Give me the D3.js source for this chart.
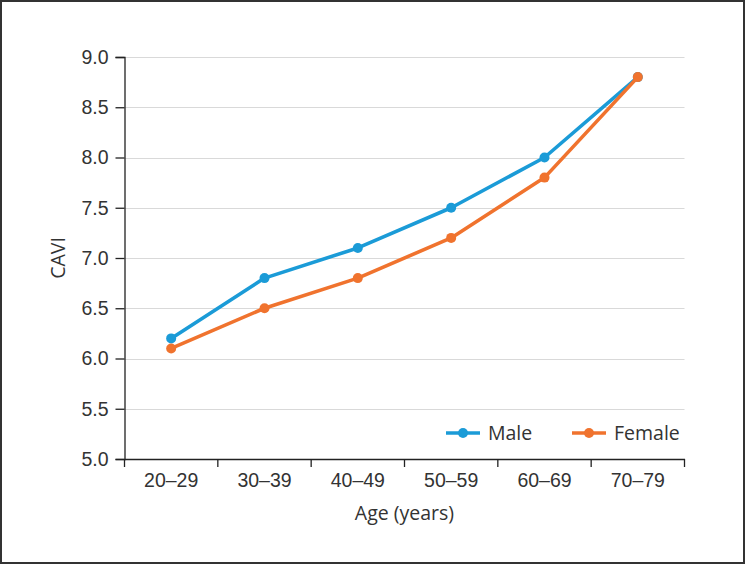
<!DOCTYPE html>
<html><head><meta charset="utf-8">
<script src="https://cdn.jsdelivr.net/npm/d3@7"></script>
<style>body{margin:0;background:#fff;}svg{display:block;font-family:"Open Sans","Noto Sans",sans-serif;}</style>
</head><body>
<svg id="c" width="745" height="564"></svg>
<script>
const categories = ["20–29","30–39","40–49","50–59","60–69","70–79"];
const maleValues = [6.2, 6.8, 7.1, 7.5, 8.0, 8.8];
const femaleValues = [6.1, 6.5, 6.8, 7.2, 7.8, 8.8];
const yTicks = [5.0,5.5,6.0,6.5,7.0,7.5,8.0,8.5,9.0];
const seriesNames = ["Male","Female"];
const colors = ["#1b9bd7","#f0732e"];

(function(){
const FS = 19.5;
const svg = d3.select("#c");
svg.append("rect").attr("x",1).attr("y",1).attr("width",743).attr("height",562)
  .attr("fill","#fff").attr("stroke","#333").attr("stroke-width",2);

const pLeft=124.5, pRight=684.5, pTop=57, pBottom=459;
const x = d3.scaleBand().domain(categories).range([pLeft,pRight]);
const y = d3.scaleLinear().domain([5,9]).range([pBottom,pTop]);

// gridlines
svg.append("g").selectAll("line").data(yTicks.filter(d=>d>5)).join("line")
  .attr("x1",pLeft).attr("x2",pRight).attr("y1",d=>Math.round(y(d))+0.5).attr("y2",d=>Math.round(y(d))+0.5)
  .attr("stroke","#d9d9d9").attr("stroke-width",1.2);

// y axis
const ya = svg.append("g").attr("transform",`translate(${pLeft},0)`)
  .call(d3.axisLeft(y).tickValues(yTicks).tickFormat(d3.format(".1f")).tickSize(9).tickPadding(7));
ya.select(".domain").attr("stroke","#222").attr("stroke-width",1.3);
ya.selectAll(".tick line").attr("stroke","#222").attr("stroke-width",1.3);
ya.selectAll("text").attr("font-size",FS).attr("fill","#333");

// x axis
const xa = svg.append("g").attr("transform",`translate(0,${pBottom})`)
  .call(d3.axisBottom(x).tickSize(0).tickPadding(14));
xa.select(".domain").attr("stroke","#222").attr("stroke-width",1.3);
xa.selectAll("text").attr("font-size",FS).attr("fill","#333");
xa.selectAll("line.bt").data(categories.concat(["end"])).join("line").attr("class","bt")
  .attr("x1",(d,i)=> i<categories.length? x(d): pRight).attr("x2",(d,i)=> i<categories.length? x(d): pRight)
  .attr("y1",0).attr("y2",8).attr("stroke","#222").attr("stroke-width",1.3);

// axis titles
svg.append("text").attr("transform",`translate(65,${(pTop+pBottom)/2}) rotate(-90)`)
  .attr("text-anchor","middle").attr("font-size",FS).attr("fill","#333").text("CAVI");
svg.append("text").attr("x",(pLeft+pRight)/2).attr("y",520).attr("text-anchor","middle")
  .attr("font-size",FS).attr("fill","#333").text("Age (years)");

const xc = d=> x(d)+x.bandwidth()/2;
const line = d3.line().x((d,i)=>xc(categories[i])).y(d=>y(d));
[maleValues,femaleValues].forEach((vals,k)=>{
  const g = svg.append("g");
  g.append("path").datum(vals).attr("d",line).attr("fill","none")
    .attr("stroke",colors[k]).attr("stroke-width",3.6).attr("stroke-linejoin","round");
  g.selectAll("circle").data(vals).join("circle")
    .attr("cx",(d,i)=>xc(categories[i])).attr("cy",d=>y(d)).attr("r",5).attr("fill",colors[k]);
});

// legend
const legX=[446,572];
seriesNames.forEach((n,k)=>{
  const g=svg.append("g").attr("transform",`translate(${legX[k]},433)`);
  g.append("line").attr("x1",0).attr("x2",34).attr("stroke",colors[k]).attr("stroke-width",3.6);
  g.append("circle").attr("cx",17).attr("r",5).attr("fill",colors[k]);
  g.append("text").attr("x",42).attr("y",6.5).attr("font-size",FS).attr("fill","#333").text(n);
});
})();
</script>
</body></html>
